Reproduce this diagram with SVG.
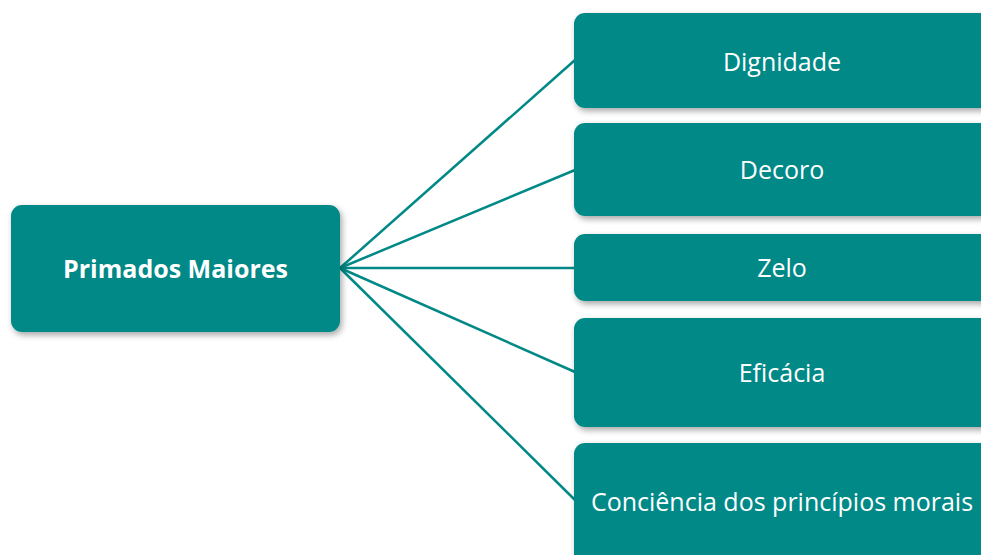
<svg xmlns="http://www.w3.org/2000/svg" width="981" height="555" viewBox="0 0 981 555">
<defs>
<filter id="sh" x="-10%" y="-10%" width="125%" height="130%">
<feDropShadow dx="2" dy="3" stdDeviation="3" flood-color="#000" flood-opacity="0.35"/>
</filter>
</defs>
<style>
.box{fill:#008987;filter:url(#sh)}
.t{font-family:"Open Sans","Noto Sans",sans-serif;fill:#fff;text-anchor:middle;dominant-baseline:central;font-size:25px}
.b{font-weight:bold}
.c{stroke:#008987;stroke-width:2.5;fill:none}
</style>
<rect width="981" height="555" fill="#fff"/>
<g id="connectors">
<line class="c" x1="340" y1="268" x2="575" y2="60"/>
<line class="c" x1="340" y1="268" x2="575" y2="170"/>
<line class="c" x1="340" y1="268" x2="575" y2="268"/>
<line class="c" x1="340" y1="268" x2="575" y2="372"/>
<line class="c" x1="340" y1="268" x2="575" y2="500"/>
</g>
<g id="main">
<rect class="box" x="11" y="205" width="329" height="127" rx="11"/>
<text class="t b" x="175.5" y="268">Primados Maiores</text>
</g>
<g id="dignidade">
<rect class="box" x="574" y="13" width="420" height="95" rx="11"/>
<text class="t" x="782" y="61">Dignidade</text>
</g>
<g id="decoro">
<rect class="box" x="574" y="123" width="420" height="93" rx="11"/>
<text class="t" x="782" y="169">Decoro</text>
</g>
<g id="zelo">
<rect class="box" x="574" y="234" width="420" height="67" rx="11"/>
<text class="t" x="782" y="267">Zelo</text>
</g>
<g id="eficacia">
<rect class="box" x="574" y="318" width="420" height="109" rx="11"/>
<text class="t" x="782" y="372">Eficácia</text>
</g>
<g id="conciencia">
<rect class="box" x="574" y="443" width="420" height="130" rx="11"/>
<text class="t" x="782" y="501">Conciência dos princípios morais</text>
</g>
</svg>
